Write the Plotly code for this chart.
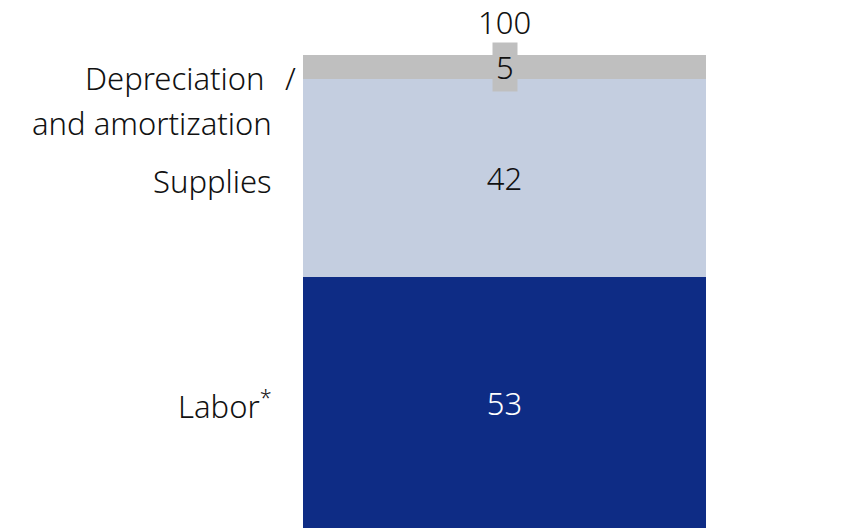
import plotly.graph_objects as go

# cost split, share of total (%)
categories = ["Labor", "Supplies", "Depreciation and amortization"]
values = [53, 42, 5]
colors = ["#0E2C85", "#C4CEE0", "#BFBFBF"]
text_colors = ["white", "#111111", "#111111"]
total = sum(values)

FONT = "Noto Sans"
SIZE = 31

fig = go.Figure()
for cat, val, col, tcol in zip(categories, values, colors, text_colors):
    fig.add_trace(go.Bar(
        x=["cost"], y=[val], name=cat, marker_color=col, marker_line_width=0,
        text=[str(val)] if val > 10 else [""], textposition="inside",
        insidetextanchor="middle",
        textfont=dict(family=FONT, size=SIZE, color=tcol, weight=300),
        width=1,
    ))

# small segment: label in a grey box
bottoms = [sum(values[:i]) for i in range(len(values))]
fig.add_annotation(x="cost", y=bottoms[2] + values[2] / 2, text=str(values[2]),
                   showarrow=False, bgcolor=colors[2], borderpad=3,
                   font=dict(family=FONT, size=SIZE, color="#111111", weight=300))

# total on top
fig.add_annotation(x="cost", y=total, text=str(total), showarrow=False,
                   yanchor="bottom", yshift=11, borderpad=0,
                   font=dict(family=FONT, size=SIZE, color="#111111", weight=300))

lab_font = dict(family=FONT, size=SIZE, color="#111111", weight=300)
fig.add_annotation(xref="paper", x=0, y=bottoms[0] + values[0] / 2,
                   text="Labor<sup>*</sup>", showarrow=False, xanchor="right",
                   xshift=-29, yshift=-2, font=lab_font)
fig.add_annotation(xref="paper", x=0, y=bottoms[1] + values[1] / 2,
                   text="Supplies", showarrow=False, xanchor="right",
                   xshift=-29, yshift=-3, font=lab_font)
# two-line label drawn as separate lines to get the wider line spacing
fig.add_annotation(xref="paper", x=0, y=total, yshift=-23,
                   text="Depreciation", showarrow=False,
                   xanchor="right", xshift=-36, font=lab_font)
fig.add_annotation(xref="paper", x=0, y=total, yshift=-68,
                   text="and amortization", showarrow=False,
                   xanchor="right", xshift=-29, font=lab_font)
fig.add_annotation(xref="paper", x=0, y=total, yshift=-23,
                   text="/", showarrow=False,
                   xanchor="right", xshift=-5, font=lab_font)

# page body adds an 8px offset, so the figure is 8px smaller
fig.update_layout(
    width=841, height=520,
    barmode="stack", bargap=0, showlegend=False,
    plot_bgcolor="white", paper_bgcolor="white",
    margin=dict(l=295, r=143, t=47, b=0),
    xaxis=dict(visible=False, range=[-0.5, 0.5]),
    yaxis=dict(visible=False, range=[0, 100]),
    font=dict(family=FONT),
)
fig.write_html("out.html")
